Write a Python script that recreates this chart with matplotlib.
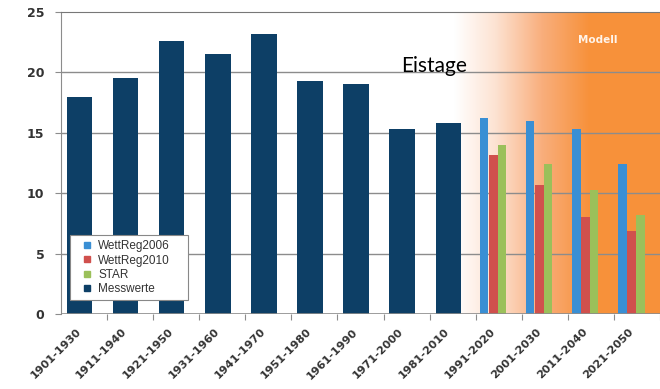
import numpy as np
import matplotlib.pyplot as plt
from matplotlib.colors import LinearSegmentedColormap
from matplotlib.lines import Line2D
import matplotlib.transforms as mtransforms

# Zeitraeume (30-jaehrige Mittel)
perioden = ["1901-1930", "1911-1940", "1921-1950", "1931-1960", "1941-1970",
            "1951-1980", "1961-1990", "1971-2000", "1981-2010",
            "1991-2020", "2001-2030", "2011-2040", "2021-2050"]

# Messwerte (nur historische Perioden)
messwerte = [18.0, 19.5, 22.6, 21.5, 23.2, 19.3, 19.0, 15.3, 15.8]

# Modellperioden
modell_idx = [9, 10, 11, 12]
wettreg2006 = [16.25, 16.0, 15.3, 12.4]
wettreg2010 = [13.2, 10.7, 8.0, 6.9]
star = [14.0, 12.4, 10.25, 8.2]

c_blue = "#3a8fd4"
c_red = "#d0504d"
c_green = "#9bc05a"
c_navy = "#0d3f66"
tick_col = "#333333"

fig = plt.figure(figsize=(6.6, 3.89), dpi=100)
ax = fig.add_axes([61 / 660, 75 / 389, 1 - 61 / 660, 302 / 389])

ax.set_xlim(-0.5, (660 - 61) / 47 - 0.5)
ax.set_ylim(0, 25)

# orange background gradient for the model part
cmap = LinearSegmentedColormap.from_list(
    "modell", [(0.0, "#ffffff"), (0.3, "#fde3d3"), (0.65, "#f9ae7c"), (1.0, "#f7913a")])
grad = np.linspace(0, 1, 256).reshape(1, -1)
x0 = (462 - 61) / 47 - 0.5
x1 = (600 - 61) / 47 - 0.5
ax.imshow(grad, cmap=cmap, aspect="auto", extent=[x0, x1, 0, 25], zorder=0)
ax.axvspan(x1, 20, color="#f7913a", zorder=0, lw=0)

# grid
for y in [5, 10, 15, 20]:
    ax.axhline(y, color="#8c8c8c", lw=1.0, zorder=1)

x_hist = np.arange(len(messwerte))
ax.bar(x_hist - 0.096, messwerte, width=0.55, color=c_navy, zorder=2)

xm = np.array(modell_idx)
w = 0.19
ax.bar(xm - 0.32, wettreg2006, width=w, color=c_blue, zorder=2)
ax.bar(xm - 0.12, wettreg2010, width=w, color=c_red, zorder=2)
ax.bar(xm + 0.07, star, width=w, color=c_green, zorder=2)

# axes styling
for s in ["right", "bottom"]:
    ax.spines[s].set_visible(False)
ax.spines["top"].set_color("#777777")
ax.spines["left"].set_color("#8c8c8c")
ax.axhline(0, color="#8c8c8c", lw=1.2, zorder=3)

ax.set_yticks([0, 5, 10, 15, 20, 25])
ax.tick_params(axis="y", length=4, color="#8c8c8c", pad=8, labelsize=9,
               labelcolor=tick_col)
for lab in ax.get_yticklabels():
    lab.set_fontweight("bold")

# tick marks at category boundaries, labels rotated
ax.set_xticks(np.arange(len(perioden)) + 0.5)
ax.set_xticklabels([])
ax.tick_params(axis="x", length=4, color="#8c8c8c")
offs = mtransforms.ScaledTranslation(-6 / 72, -9 / 72, fig.dpi_scale_trans)
for i, p in enumerate(perioden):
    ax.text(i, 0, p, rotation=45, ha="right", va="top", rotation_mode="anchor",
            fontsize=8, fontweight="bold", color=tick_col,
            transform=ax.transData + offs, clip_on=False)

# titles in the plot
ax.text(434, 389 - 72, "Eistage", fontsize=15, family="Lato", color="black",
        ha="center", va="baseline", transform=None)
ax.text(598, 389 - 40, "Modell", fontsize=7.5, fontweight="bold", color="#fff4ea",
        ha="center", va="center", transform=None)

names = ["WettReg2006", "WettReg2010", "STAR", "Messwerte"]
cols = [c_blue, c_red, c_green, c_navy]
handles = [Line2D([], [], ls="", marker="s", markersize=4.5, color=c) for c in cols]
leg = ax.legend(handles, names, loc="lower left",
                bbox_to_anchor=(9 / 599, 14 / 302, 118 / 599, 63 / 302),
                mode="expand", borderaxespad=0,
                prop={"family": "Liberation Sans", "size": 8.5},
                frameon=True, fancybox=False, handlelength=2.0,
                handletextpad=0.0, borderpad=0.4, framealpha=1,
                labelspacing=0.2, labelcolor="#333333")
leg.get_frame().set_edgecolor("#888888")
leg.get_frame().set_linewidth(0.8)
leg.set_zorder(5)

fig.savefig("out.png", dpi=100)
